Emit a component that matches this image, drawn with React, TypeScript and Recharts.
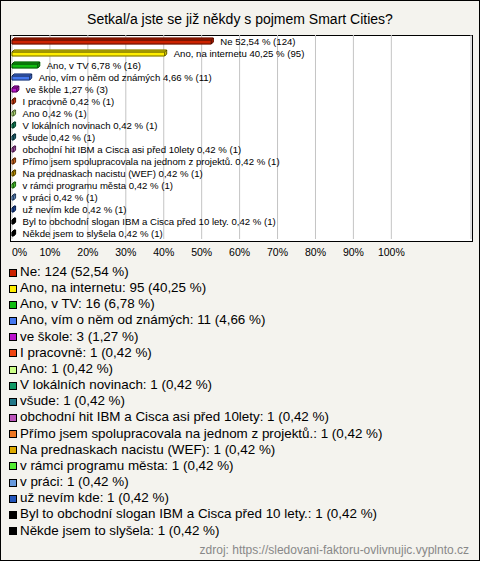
import { Bar, BarChart, CartesianGrid, Cell, LabelList, XAxis, YAxis } from 'recharts';

const categories = [
  'Ne',
  'Ano, na internetu',
  'Ano, v TV',
  'Ano, vím o něm od známých',
  've škole',
  'I pracovně',
  'Ano',
  'V lokálních novinach',
  'všude',
  'obchodní hit IBM a Cisca asi před 10lety',
  'Přímo jsem spolupracovala na jednom z projektů.',
  'Na prednaskach nacistu (WEF)',
  'v rámci programu města',
  'v práci',
  'už nevím kde',
  'Byl to obchodní slogan IBM a Cisca před 10 lety.',
  'Někde jsem to slyšela',
];
const counts = [124, 95, 16, 11, 3, 1, 1, 1, 1, 1, 1, 1, 1, 1, 1, 1, 1];
const percents = [52.54, 40.25, 6.78, 4.66, 1.27, 0.42, 0.42, 0.42, 0.42, 0.42, 0.42, 0.42, 0.42, 0.42, 0.42, 0.42, 0.42];
const colors = [
  '#cc2200', '#ffee00', '#11bb11', '#4477ee', '#bb11cc', '#ee4411', '#ccff88', '#119966', '#227788',
  '#bb55bb', '#ee7722', '#ddaa00', '#55ee33', '#6699dd', '#2255bb', '#000000', '#000000',
];
const ticks = [0, 10, 20, 30, 40, 50, 60, 70, 80, 90, 100];

const font = '"Liberation Sans", Arial, sans-serif';
const fmt = (v: number) => v.toFixed(2).replace('.', ',');

const data = categories.map((name, i) => ({ name, value: percents[i], count: counts[i], color: colors[i] }));

const D = 2;

function Bar3D(props: any) {
  const { x, y, width, height, fill } = props;
  const w = Math.max(width, 0);
  const h = height - D;
  const top = y + D;
  const front = `M${x},${top} h${w} v${h} h${-w} Z`;
  const lid = `M${x},${top} l${D},${-D} h${w} l${-D},${D} Z`;
  const side = `M${x + w},${top} l${D},${-D} v${h} l${-D},${D} Z`;
  return (
    <g>
      {[front, lid, side].map((d, i) => (
        <g key={i}>
          <path d={d} fill={fill} stroke={fill} strokeWidth={1} />
          <path d={d} fill={i === 0 ? 'none' : 'rgba(0,0,0,0.12)'} stroke="rgba(0,0,0,0.55)" strokeWidth={1} />
        </g>
      ))}
    </g>
  );
}

function BarText(props: any) {
  const { x, y, width, height, index } = props;
  const d = data[index];
  return (
    <text x={x + width + D + 7} y={y + height / 2} dominantBaseline="central" fontSize={9.6} fontFamily={font} fill="#000">
      {`${d.name} ${fmt(d.value)} % (${d.count})`}
    </text>
  );
}

function Tick(props: any) {
  const { x, y, payload } = props;
  return (
    <text x={x} y={y + 13} textAnchor={payload.value === 0 ? 'start' : 'middle'} dominantBaseline="central" fontSize={10.5} fontFamily={font} fill="#000">
      {`${payload.value}%`}
    </text>
  );
}

export default function App() {
  return (
    <div style={{ position: 'absolute', left: 0, top: 0, width: 480, height: 561, boxSizing: 'border-box', border: '1px solid #000', background: '#f4f3ee', fontFamily: font, overflow: 'hidden' }}>
      <div style={{ position: 'absolute', left: 0, top: 10, width: 478, textAlign: 'center', fontSize: 14, lineHeight: '16px' }}>
        Setkal/a jste se již někdy s pojmem Smart Cities?
      </div>
      <div style={{ position: 'absolute', left: 9, top: 34, width: 461, height: 205, background: '#fff', border: '1px solid #000' }} />
      <div style={{ position: 'absolute', left: -1, top: -1 }}>
        <BarChart width={480} height={270} data={data} layout="vertical" margin={{ top: 35, right: 9, bottom: 11, left: 12 }}>
          <CartesianGrid horizontal={false} stroke="#c4c4c4" />
          <XAxis type="number" domain={[0, 121]} ticks={ticks} height={20} axisLine={false} tickLine={false} tickSize={0} tickMargin={0} tick={<Tick />} interval={0} />
          <YAxis type="category" dataKey="name" hide />
          <Bar dataKey="value" barSize={6} shape={<Bar3D />} isAnimationActive={false}>
            {data.map((d) => <Cell key={d.name} fill={d.color} />)}
            <LabelList dataKey="value" content={<BarText />} />
          </Bar>
        </BarChart>
      </div>
      <div style={{ position: 'absolute', left: 8, top: 263, fontSize: 13.4, lineHeight: '16.15px', color: '#000' }}>
        {data.map((d) => (
          <div key={d.name} style={{ display: 'flex', alignItems: 'center', whiteSpace: 'nowrap' }}>
            <span style={{ display: 'inline-block', width: 6, height: 6, border: '1px solid #000', background: d.color, marginRight: 3, marginTop: 1 }} />
            {`${d.name}: ${d.count} (${fmt(d.value)} %)`}
          </div>
        ))}
      </div>
      <div style={{ position: 'absolute', right: 10, top: 543, fontSize: 12, lineHeight: '13px', color: '#888' }}>
        zdroj: https://sledovani-faktoru-ovlivnujic.vyplnto.cz
      </div>
    </div>
  );
}
